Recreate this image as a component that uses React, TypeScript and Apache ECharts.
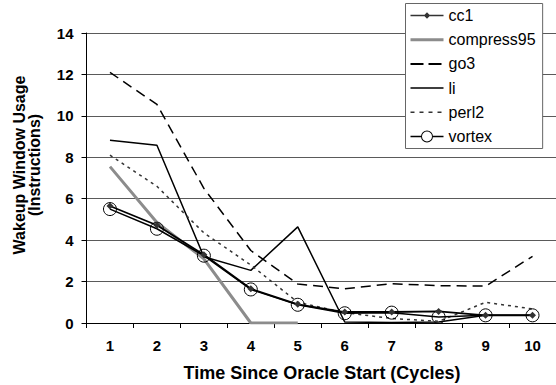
import React, { useEffect, useRef } from "react";
import * as echarts from "echarts";

const categories = ["1", "2", "3", "4", "5", "6", "7", "8", "9", "10"];
const cc1 = [5.65, 4.72, 3.3, 1.65, 0.9, 0.53, 0.53, 0.56, 0.37, 0.37];
const compress95 = [7.55, 4.85, 3.1, 0, 0];
const go3 = [12.1, 10.55, 6.5, 3.5, 1.88, 1.65, 1.9, 1.8, 1.78, 3.22];
const li = [8.82, 8.58, 3.2, 2.54, 4.64, 0.05, 0.02, 0.05, 0.37, 0.37];
const perl2 = [8.1, 6.6, 4.35, 2.8, 1.0, 0.5, 0.22, 0.08, 1.0, 0.68];
const vortex = [5.5, 4.55, 3.25, 1.62, 0.88, 0.47, 0.5, 0.29, 0.37, 0.37];

const FONT = "Arial, 'Liberation Sans', sans-serif";
// corner anchors keep the icon's bounding box at 33x14
const BOX = "M0,0h0.05v0.05h-0.05z M32.95,13.95h0.05v0.05h-0.05z ";
const ICON_CC1 = "path://" + BOX + "M0,6.3H33V7.7H0Z M16.5,3.8L19.7,7L16.5,10.2L13.3,7Z";
const ICON_COMP = "path://" + BOX + "M0,5.5H33V8.5H0Z";
const ICON_GO3 = "path://" + BOX + "M0,6H13V8H0Z M18,6H31V8H18Z";
const ICON_LI = "path://" + BOX + "M0,6.25H33V7.75H0Z";
const ICON_PERL = "path://" + BOX + "M0,6.3H4V7.7H0Z M9,6.3H13V7.7H9Z M18,6.3H22V7.7H18Z M27,6.3H31V7.7H27Z";
const ICON_VORTEX =
  "path://" +
  BOX +
  "M0,6.3H10.5V7.7H0Z M22.5,6.3H33V7.7H22.5Z M22.5,7A6,6 0 1 0 10.5,7A6,6 0 1 0 22.5,7Z M21.5,7A5,5 0 1 1 11.5,7A5,5 0 1 1 21.5,7Z";

export default function App() {
  const ref = useRef<HTMLDivElement>(null);
  useEffect(() => {
    document.body.style.margin = "0";
    const chart = echarts.init(ref.current!, null, { renderer: "svg" });
    const plain = (name: string, data: number[], lineStyle: any) => ({
      name,
      type: "line",
      data,
      symbol: "none",
      showSymbol: false,
      lineStyle,
      itemStyle: { color: lineStyle.color },
    });
    chart.setOption({
      animation: false,
      textStyle: { fontFamily: FONT },
      grid: { left: 86.5, right: -2, top: 33, bottom: 62, containLabel: false },
      xAxis: {
        type: "category",
        data: categories,
        boundaryGap: true,
        axisLine: { lineStyle: { color: "#000", width: 1 } },
        axisTick: { show: true, length: 5, lineStyle: { color: "#000" } },
        axisLabel: { color: "#000", fontWeight: "bold", fontSize: 15, margin: 15, fontFamily: FONT },
        splitLine: { show: false },
      },
      yAxis: {
        type: "value",
        min: 0,
        max: 14,
        interval: 2,
        axisLine: { show: true, lineStyle: { color: "#000", width: 1 } },
        axisTick: { show: true, length: 5, lineStyle: { color: "#000" } },
        axisLabel: { color: "#000", fontWeight: "bold", fontSize: 15, margin: 13, fontFamily: FONT },
        splitLine: { show: true, lineStyle: { color: "#5a5a5a", width: 1 } },
      },
      legend: {
        orient: "vertical",
        left: 405.5,
        top: 3.5,
        itemWidth: 33,
        itemHeight: 14,
        itemGap: 8.2,
        padding: [4, 7, 4, 5],
        backgroundColor: "#fff",
        borderColor: "#666",
        borderWidth: 1,
        borderRadius: 0,
        itemStyle: { borderWidth: 0 },
        textStyle: { color: "#000", fontSize: 16, fontFamily: FONT },
        data: [
          { name: "cc1", icon: ICON_CC1 },
          { name: "compress95", icon: ICON_COMP },
          { name: "go3", icon: ICON_GO3 },
          { name: "li", icon: ICON_LI },
          { name: "perl2", icon: ICON_PERL },
          { name: "vortex", icon: ICON_VORTEX, itemStyle: { color: "#000", borderWidth: 0 } },
        ],
      },
      series: [
        plain("compress95", compress95, { color: "#8c8c8c", width: 3 }),
        plain("go3", go3, { color: "#000", width: 1.5, type: [10, 6] }),
        plain("li", li, { color: "#000", width: 1.5 }),
        plain("perl2", perl2, { color: "#333", width: 1.5, type: [3, 4] }),
        {
          name: "vortex",
          type: "line",
          data: vortex,
          symbol: "circle",
          symbolSize: 13,
          showSymbol: true,
          lineStyle: { color: "#000", width: 1.5 },
          itemStyle: { color: "rgba(255,255,255,0)", borderColor: "#000", borderWidth: 1 },
        },
        {
          name: "cc1",
          type: "line",
          data: cc1,
          symbol: "diamond",
          symbolSize: 7,
          showSymbol: true,
          lineStyle: { color: "#000", width: 1.8 },
          itemStyle: { color: "#333", borderColor: "#333", borderWidth: 0 },
        },
      ],
      graphic: [
        {
          type: "text",
          x: 27,
          y: 165,
          rotation: Math.PI / 2,
          style: {
            text: "Wakeup Window Usage\n(Instructions)",
            font: `bold 16px ${FONT}`,
            fill: "#000",
            align: "center",
            verticalAlign: "middle",
            textAlign: "center",
            textVerticalAlign: "middle",
            lineHeight: 15,
          },
        },
        {
          type: "text",
          x: 322,
          y: 373,
          style: {
            text: "Time Since Oracle Start (Cycles)",
            font: `bold 18px ${FONT}`,
            fill: "#000",
            align: "center",
            verticalAlign: "middle",
            textAlign: "center",
            textVerticalAlign: "middle",
          },
        },
      ],
    });
    return () => chart.dispose();
  }, []);
  return (
    <div
      ref={ref}
      style={{ position: "absolute", left: 0, top: 0, width: 556, height: 385 }}
    />
  );
}
